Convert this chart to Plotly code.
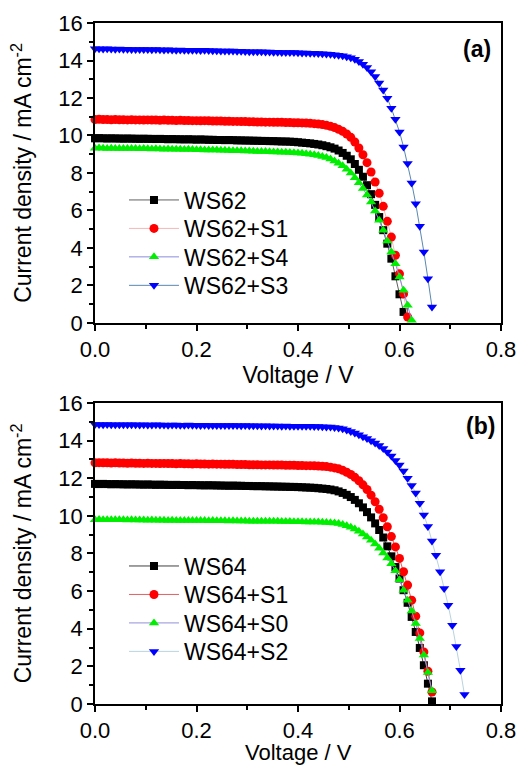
import plotly.graph_objects as go

# Shared voltage sweep (V)
voltage = [0.000, 0.008, 0.016, 0.024, 0.032, 0.040, 0.048, 0.056, 0.064, 0.072,
           0.080, 0.088, 0.096, 0.104, 0.112, 0.120, 0.128, 0.136, 0.144, 0.152,
           0.160, 0.168, 0.176, 0.184, 0.192, 0.200, 0.208, 0.216, 0.224, 0.232,
           0.240, 0.248, 0.256, 0.264, 0.272, 0.280, 0.288, 0.296, 0.304, 0.312,
           0.320, 0.328, 0.336, 0.344, 0.352, 0.360, 0.368, 0.376, 0.384, 0.392,
           0.400, 0.408, 0.416, 0.424, 0.432, 0.440, 0.448, 0.456, 0.464, 0.472,
           0.480, 0.488, 0.496, 0.504, 0.512, 0.520, 0.528, 0.536, 0.544, 0.552,
           0.560, 0.568, 0.576, 0.584, 0.592, 0.600, 0.608, 0.616, 0.624, 0.632,
           0.640, 0.648, 0.656, 0.664, 0.672, 0.680, 0.688, 0.696, 0.704, 0.712,
           0.720, 0.728]

# Panel (a) current densities (mA cm^-2)
ws62 = [9.85, 9.86, 9.85, 9.84, 9.85, 9.84, 9.84, 9.83, 9.84, 9.83,
        9.83, 9.82, 9.83, 9.82, 9.82, 9.81, 9.82, 9.81, 9.80, 9.81,
        9.80, 9.80, 9.79, 9.80, 9.79, 9.78, 9.79, 9.78, 9.77, 9.77,
        9.76, 9.76, 9.75, 9.76, 9.75, 9.74, 9.74, 9.73, 9.73, 9.72,
        9.72, 9.71, 9.71, 9.70, 9.70, 9.69, 9.68, 9.68, 9.67, 9.66,
        9.64, 9.62, 9.60, 9.58, 9.55, 9.52, 9.48, 9.43, 9.37, 9.30,
        9.20, 9.07, 8.92, 8.73, 8.48, 8.17, 7.80, 7.35, 6.87, 6.30,
        5.65, 4.95, 4.23, 3.43, 2.49, 1.53, 0.59]
ws62_s1 = [10.85, 10.86, 10.85, 10.85, 10.84, 10.85, 10.84, 10.84, 10.83, 10.84,
           10.83, 10.83, 10.82, 10.83, 10.82, 10.82, 10.81, 10.82, 10.81, 10.81,
           10.80, 10.81, 10.80, 10.80, 10.79, 10.79, 10.78, 10.79, 10.78, 10.77,
           10.77, 10.77, 10.76, 10.76, 10.75, 10.75, 10.74, 10.74, 10.73, 10.73,
           10.72, 10.72, 10.71, 10.71, 10.70, 10.70, 10.70, 10.69, 10.69, 10.68,
           10.68, 10.67, 10.66, 10.65, 10.63, 10.61, 10.58, 10.54, 10.49, 10.42,
           10.33, 10.22, 10.08, 9.90, 9.65, 9.33, 8.97, 8.55, 8.05, 7.52,
           6.92, 6.22, 5.42, 4.58, 3.61, 2.62, 1.55, 0.32]
ws62_s4 = [9.32, 9.33, 9.32, 9.31, 9.32, 9.31, 9.31, 9.30, 9.31, 9.30,
           9.30, 9.29, 9.30, 9.29, 9.28, 9.29, 9.28, 9.27, 9.28, 9.27,
           9.26, 9.26, 9.25, 9.26, 9.25, 9.24, 9.24, 9.23, 9.23, 9.22,
           9.22, 9.21, 9.21, 9.20, 9.19, 9.19, 9.18, 9.17, 9.17, 9.16,
           9.15, 9.15, 9.14, 9.13, 9.12, 9.12, 9.11, 9.10, 9.09, 9.08,
           9.07, 9.05, 9.03, 9.00, 8.97, 8.93, 8.88, 8.82, 8.74, 8.64,
           8.52, 8.38, 8.20, 8.00, 7.75, 7.48, 7.17, 6.82, 6.45, 5.97,
           5.48, 4.94, 4.37, 3.79, 3.16, 2.45, 1.74, 0.94, 0.14]
ws62_s3 = [14.62, 14.62, 14.61, 14.62, 14.61, 14.60, 14.61, 14.60, 14.60, 14.59,
           14.59, 14.58, 14.59, 14.58, 14.57, 14.58, 14.57, 14.56, 14.57, 14.56,
           14.55, 14.56, 14.55, 14.54, 14.55, 14.54, 14.53, 14.54, 14.53, 14.52,
           14.52, 14.51, 14.51, 14.50, 14.50, 14.49, 14.49, 14.48, 14.47, 14.47,
           14.46, 14.46, 14.45, 14.45, 14.44, 14.44, 14.43, 14.43, 14.42, 14.42,
           14.41, 14.40, 14.40, 14.39, 14.38, 14.37, 14.36, 14.35, 14.33, 14.31,
           14.28, 14.25, 14.20, 14.14, 14.06, 13.95, 13.80, 13.62, 13.40, 13.15,
           12.80, 12.42, 11.98, 11.45, 10.86, 10.19, 9.39, 8.50, 7.47, 6.36,
           5.16, 3.79, 2.36, 0.85]

# Panel (b) current densities (mA cm^-2)
ws64 = [11.70, 11.69, 11.70, 11.69, 11.68, 11.69, 11.68, 11.68, 11.67, 11.68,
        11.67, 11.67, 11.66, 11.67, 11.66, 11.65, 11.66, 11.65, 11.65, 11.64,
        11.65, 11.64, 11.64, 11.63, 11.64, 11.63, 11.63, 11.62, 11.63, 11.62,
        11.62, 11.61, 11.61, 11.60, 11.61, 11.60, 11.60, 11.59, 11.59, 11.58,
        11.58, 11.58, 11.57, 11.57, 11.56, 11.56, 11.55, 11.55, 11.54, 11.54,
        11.53, 11.52, 11.51, 11.50, 11.49, 11.47, 11.45, 11.43, 11.40, 11.36,
        11.30, 11.22, 11.12, 11.00, 10.85, 10.67, 10.45, 10.20, 9.92, 9.60,
        9.25, 8.85, 8.38, 7.85, 7.28, 6.67, 6.05, 5.38, 4.63, 3.83,
        2.98, 2.06, 1.08, 0.14]
ws64_s1 = [12.82, 12.83, 12.82, 12.82, 12.81, 12.82, 12.81, 12.81, 12.80, 12.81,
           12.80, 12.80, 12.79, 12.80, 12.79, 12.79, 12.78, 12.79, 12.78, 12.78,
           12.77, 12.78, 12.77, 12.77, 12.76, 12.77, 12.76, 12.76, 12.75, 12.76,
           12.75, 12.75, 12.74, 12.74, 12.74, 12.73, 12.73, 12.73, 12.72, 12.72,
           12.72, 12.71, 12.71, 12.71, 12.70, 12.70, 12.70, 12.69, 12.69, 12.69,
           12.68, 12.68, 12.67, 12.67, 12.66, 12.65, 12.64, 12.62, 12.59, 12.55,
           12.50, 12.42, 12.32, 12.20, 12.05, 11.87, 11.65, 11.40, 11.10, 10.75,
           10.35, 9.90, 9.42, 8.90, 8.35, 7.74, 7.03, 6.32, 5.52, 4.67,
           3.78, 2.77, 1.74, 0.64]
ws64_s0 = [9.80, 9.81, 9.80, 9.80, 9.79, 9.80, 9.79, 9.79, 9.78, 9.79,
           9.78, 9.78, 9.78, 9.77, 9.78, 9.77, 9.77, 9.77, 9.76, 9.77,
           9.76, 9.76, 9.76, 9.75, 9.76, 9.75, 9.75, 9.75, 9.74, 9.75,
           9.74, 9.74, 9.74, 9.73, 9.74, 9.73, 9.73, 9.73, 9.72, 9.72,
           9.72, 9.72, 9.71, 9.71, 9.71, 9.71, 9.70, 9.70, 9.70, 9.69,
           9.69, 9.69, 9.68, 9.68, 9.67, 9.67, 9.66, 9.65, 9.64, 9.62,
           9.59, 9.54, 9.48, 9.40, 9.30, 9.18, 9.04, 8.88, 8.70, 8.50,
           8.28, 8.03, 7.76, 7.45, 7.08, 6.60, 6.05, 5.52, 4.95, 4.28,
           3.48, 2.60, 1.68, 0.70]
ws64_s2 = [14.86, 14.86, 14.85, 14.86, 14.85, 14.85, 14.84, 14.85, 14.84, 14.84,
           14.84, 14.83, 14.84, 14.83, 14.83, 14.84, 14.83, 14.83, 14.82, 14.83,
           14.83, 14.82, 14.82, 14.83, 14.82, 14.82, 14.81, 14.82, 14.81, 14.81,
           14.81, 14.80, 14.81, 14.80, 14.80, 14.80, 14.79, 14.80, 14.79, 14.79,
           14.79, 14.78, 14.79, 14.78, 14.78, 14.78, 14.77, 14.78, 14.77, 14.77,
           14.77, 14.76, 14.76, 14.76, 14.75, 14.75, 14.74, 14.73, 14.72, 14.70,
           14.67, 14.63, 14.57, 14.49, 14.40, 14.31, 14.21, 14.11, 14.00, 13.88,
           13.74, 13.58, 13.40, 13.18, 12.95, 12.70, 12.38, 12.00, 11.62, 11.22,
           10.67, 10.05, 9.43, 8.66, 7.91, 7.03, 6.14, 5.25, 4.18, 3.06,
           1.80, 0.50]

x_ticks = [0.0, 0.2, 0.4, 0.6, 0.8]
y_ticks = [0, 2, 4, 6, 8, 10, 12, 14, 16]
x_title = "Voltage / V"
y_title = "Current density / mA cm<sup>-2</sup>"

FONT = "Liberation Sans, Arial, sans-serif"

panel_a = [
    ("WS62", ws62, "square", 8, "#000000", "#606060"),
    ("WS62+S1", ws62_s1, "circle", 9, "#ff0000", "#f4b8b8"),
    ("WS62+S4", ws62_s4, "triangle-up", 9, "#00ee00", "#8a8ae0"),
    ("WS62+S3", ws62_s3, "triangle-down", 9, "#0000ff", "#5a88b0"),
]
panel_b = [
    ("WS64", ws64, "square", 8, "#000000", "#404040"),
    ("WS64+S1", ws64_s1, "circle", 9, "#ff0000", "#e06060"),
    ("WS64+S0", ws64_s0, "triangle-up", 9, "#00ee00", "#9090d8"),
    ("WS64+S2", ws64_s2, "triangle-down", 9, "#0000ff", "#b8d4de"),
]

# one single-entry legend per series so the entry spacing can match the original
legend_ids = ["legend", "legend2", "legend3", "legend4",
              "legend5", "legend6", "legend7", "legend8"]
legend_top_a = 0.7401    # paper y of first entry centre, panel (a)
legend_top_b = 0.2026    # paper y of first entry centre, panel (b)
legend_step = 0.0418     # paper-height step between entries

fig = go.Figure()
k = 0
for items, xa, ya in [(panel_a, "x", "y"), (panel_b, "x2", "y2")]:
    for name, j, sym, size, mcol, lcol in items:
        fig.add_trace(go.Scatter(
            x=voltage[:len(j)], y=j, name=name, mode="lines+markers",
            xaxis=xa, yaxis=ya, legend=legend_ids[k], cliponaxis=False,
            showlegend=True,
            line=dict(color=lcol, width=1),
            marker=dict(symbol=sym, size=size, color=mcol, line=dict(width=0)),
        ))
        k += 1

def xax(anchor, title):
    ax = dict(
        anchor=anchor, domain=[0, 1], range=[0, 0.8], tickvals=x_ticks, automargin=False,
        tickformat=".1f", ticks="outside", ticklen=6, tickwidth=1.5, tickcolor="black",
        showline=True, linecolor="black", linewidth=1.5, mirror=True,
        showgrid=False, zeroline=False,
        minor=dict(dtick=0.1, ticks="outside", ticklen=4, tickwidth=1.5, tickcolor="black"),
        tickfont=dict(family=FONT, size=22, color="black"),
    )
    if title:
        ax["title"] = dict(text=x_title, font=dict(family=FONT, size=23, color="black"), standoff=4)
    return ax

def yax(anchor, domain):
    return dict(
        anchor=anchor, domain=domain, range=[0, 16], tickvals=y_ticks, automargin=False,
        ticks="outside", ticklen=6, tickwidth=1.5, tickcolor="black",
        showline=True, linecolor="black", linewidth=1.5, mirror=True,
        showgrid=False, zeroline=False,
        minor=dict(dtick=1, ticks="outside", ticklen=4, tickwidth=1.5, tickcolor="black"),
        tickfont=dict(family=FONT, size=22, color="black"),
        title=dict(text=y_title, font=dict(family=FONT, size=23, color="black"), standoff=20),
    )

legend_style = dict(font=dict(family=FONT, size=23, color="black"), bgcolor="rgba(0,0,0,0)",
                    itemwidth=50, xanchor="left", yanchor="middle", x=0.0714)

layout_legends = {}
for i in range(4):
    layout_legends[legend_ids[i]] = dict(y=legend_top_a - i * legend_step, **legend_style)
    layout_legends[legend_ids[4 + i]] = dict(y=legend_top_b - i * legend_step, **legend_style)

fig.update_layout(
    width=518, height=766, autosize=False,
    margin=dict(l=95, r=17, t=23, b=62),
    paper_bgcolor="white", plot_bgcolor="white",
    xaxis=xax("y", True), yaxis=yax("x", [0.5595, 1.0]),
    xaxis2=xax("y2", False), yaxis2=yax("x2", [0.0, 0.442]),
    annotations=[
        dict(text="<b>(a)</b>", xref="x domain", yref="y domain", x=0.94, y=0.912,
             xanchor="center", yanchor="middle",
             showarrow=False, font=dict(family=FONT, size=23, color="black")),
        dict(text="<b>(b)</b>", xref="x2 domain", yref="y2 domain", x=0.95, y=0.924,
             xanchor="center", yanchor="middle",
             showarrow=False, font=dict(family=FONT, size=23, color="black")),
        # x-axis title of panel (b), sitting at the bottom edge of the figure
        dict(text=x_title, xref="x2 domain", yref="paper", x=0.5, y=-0.0910,
             xanchor="center", yanchor="bottom", borderpad=0,
             showarrow=False, font=dict(family=FONT, size=22, color="black")),
    ],
    **layout_legends,
)

fig.write_html(
    "out.html",
    config={"displayModeBar": False},
    post_script="document.body.style.margin='0px';document.documentElement.style.overflow='hidden';",
)
